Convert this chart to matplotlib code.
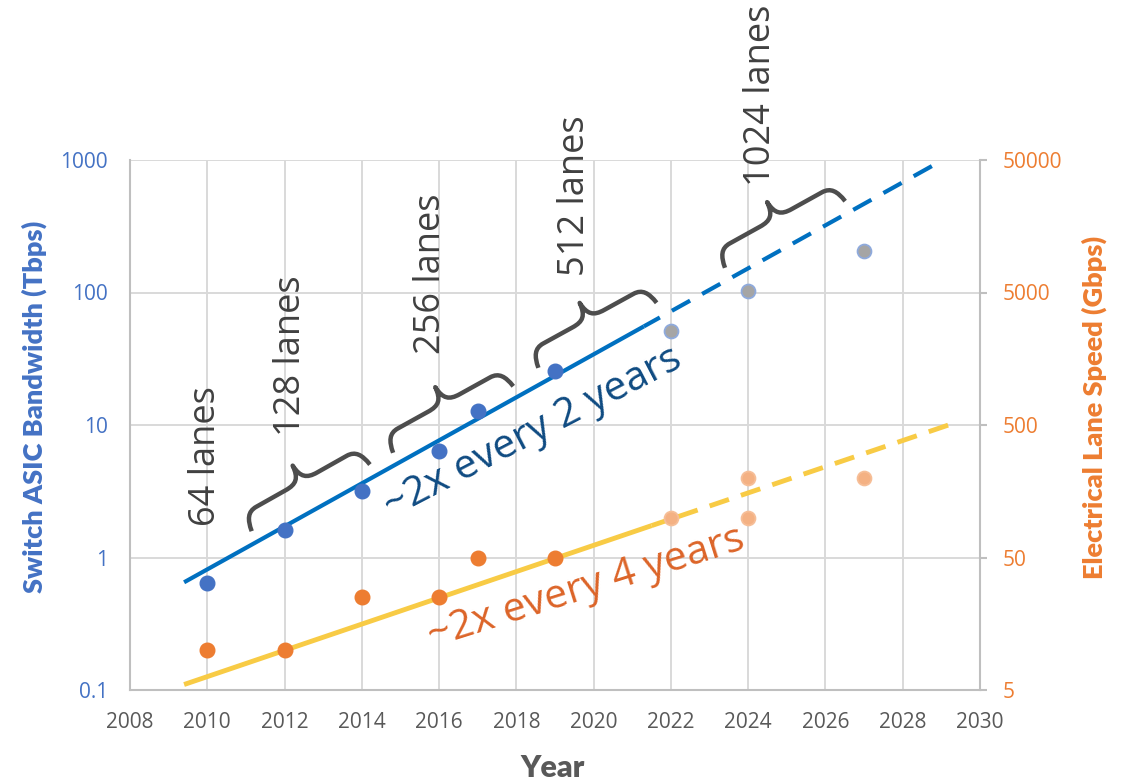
import numpy as np
import matplotlib
matplotlib.use("Agg")
import matplotlib.pyplot as plt
from matplotlib.path import Path
from matplotlib.patches import PathPatch
from matplotlib.transforms import IdentityTransform
from matplotlib.ticker import FixedLocator, FixedFormatter, NullLocator

# Switch ASIC bandwidth (Tbps): shipped parts and announced/projected parts
asic_years = [2010, 2012, 2014, 2016, 2017, 2019]
asic_tbps = [0.64, 1.6, 3.2, 6.4, 12.8, 25.6]
asic_future_years = [2022, 2024, 2027]
asic_future_tbps = [51.2, 102.4, 204.8]

# Electrical SerDes lane speed (Gbps)
lane_years = [2010, 2012, 2014, 2016, 2017, 2019]
lane_gbps = [10, 10, 25, 25, 50, 50]
lane_future_years = [2022, 2024, 2024, 2027]
lane_future_gbps = [100, 200, 100, 200]

# Trend lines: solid = history, dashed = projection
asic_trend_years = [2009.4, 2021.3]
asic_trend_tbps = [0.65, 55.5]
asic_proj_years = [2021.3, 2028.9]
asic_proj_tbps = [55.5, 950]
lane_trend_years = [2009.4, 2021.5]
lane_trend_gbps = [5.5, 87]
lane_proj_years = [2021.5, 2029.4]
lane_proj_gbps = [87, 525]

year_ticks = list(range(2008, 2031, 2))
tbps_ticks = [0.1, 1, 10, 100, 1000]
tbps_labels = ["0.1", "1", "10", "100", "1000"]
gbps_ticks = [5, 50, 500, 5000, 50000]
gbps_labels = ["5", "50", "500", "5000", "50000"]

lane_labels = ["64 lanes", "128 lanes", "256 lanes", "512 lanes", "1024 lanes"]

BLUE_PT = "#4472C4"
BLUE_LINE = "#0070C0"
ORANGE_PT = "#ED7D31"
YELLOW = "#F8CB45"
GRID = "#D9D9D9"
SPINE = "#BFBFBF"
DARK = "#404040"

plt.rcParams["font.family"] = ["Open Sans", "DejaVu Sans"]

W, H = 1129, 780
fig = plt.figure(figsize=(W / 100, H / 100), dpi=100)
ax = fig.add_axes([130 / W, 90 / H, 850 / W, 530 / H])
ax2 = ax.twinx()

# ---- axes / scales ----
ax.set_xlim(2008, 2030)
ax.set_yscale("log")
ax.set_ylim(0.1, 1000)
ax2.set_yscale("log")
ax2.set_ylim(5, 50000)

ax.xaxis.set_major_locator(FixedLocator(year_ticks))
ax.xaxis.set_major_formatter(FixedFormatter([str(y) for y in year_ticks]))
ax.yaxis.set_major_locator(FixedLocator(tbps_ticks))
ax.yaxis.set_major_formatter(FixedFormatter(tbps_labels))
ax.yaxis.set_minor_locator(NullLocator())
ax2.yaxis.set_major_locator(FixedLocator(gbps_ticks))
ax2.yaxis.set_major_formatter(FixedFormatter(gbps_labels))
ax2.yaxis.set_minor_locator(NullLocator())

ax.grid(True, color=GRID, linewidth=1.4)
ax.set_axisbelow(True)

for a in (ax, ax2):
    a.spines["top"].set_visible(False)
    for s in a.spines.values():
        s.set_color(SPINE)
        s.set_linewidth(1.5)
ax2.spines["left"].set_visible(False)
ax2.spines["bottom"].set_visible(False)
ax.spines["right"].set_visible(False)

ax.tick_params(axis="x", length=0, pad=16, labelsize=15, labelcolor="#595959")
ax.tick_params(axis="y", length=0, pad=16, labelsize=15, labelcolor=BLUE_PT)
ax2.tick_params(axis="y", length=5, width=1.5, color=SPINE, direction="out",
                pad=11, labelsize=15, labelcolor=ORANGE_PT)

# ---- trend lines ----
ax.plot(asic_trend_years, asic_trend_tbps, color=BLUE_LINE, lw=3,
        solid_capstyle="butt", zorder=2)
ax.plot(asic_proj_years, asic_proj_tbps, color=BLUE_LINE, lw=3,
        linestyle=(0.6, (5, 3.3)), dash_capstyle="butt", zorder=2)
ax2.plot(lane_trend_years, lane_trend_gbps, color=YELLOW, lw=3.5,
         solid_capstyle="butt", zorder=2)
ax2.plot(lane_proj_years, lane_proj_gbps, color=YELLOW, lw=3.5,
         linestyle=(1.0, (4.2, 2.6)), dash_capstyle="butt", zorder=2)

# ---- data points ----
ax.plot(asic_years, asic_tbps, "o", ms=10.5, color=BLUE_PT, mec=BLUE_PT, zorder=3)
ax.plot(asic_future_years, asic_future_tbps, "o", ms=10, color="#A5A5A5",
        mec="#8FAADC", mew=1.3, zorder=3)
ax2.plot(lane_years, lane_gbps, "o", ms=10.5, color=ORANGE_PT, mec=ORANGE_PT, zorder=3)
ax2.plot(lane_future_years, lane_future_gbps, "o", ms=10, color="#F4B183",
         mec="#F6BE97", mew=1.3, zorder=3)

# ---- axis titles ----
title_font = ["Lato", "DejaVu Sans"]
fig.text(43 / W, 1 - 407 / H, "Switch ASIC Bandwidth (Tbps)", rotation=90,
         rotation_mode="anchor", ha="center", va="baseline",
         fontsize=19.5, fontweight="heavy", color=BLUE_PT, family=title_font)
fig.text(1103 / W, 1 - 407 / H, "Electrical Lane Speed (Gbps)", rotation=90,
         rotation_mode="anchor", ha="center", va="baseline",
         fontsize=19.5, fontweight="heavy", color=ORANGE_PT, family=title_font)
fig.text(553 / W, 3 / H, "Year", ha="center", va="baseline",
         fontsize=22, fontweight="heavy", color="#595959", family=title_font)

# ---- growth-rate annotations ----
ax2.text(2018.55, 7.5, "~2x every 2 years", transform=ax.transData,
         rotation=27.5, rotation_mode="anchor", ha="center", va="baseline",
         fontsize=29.5, color="#0F4B82", zorder=5)
ax2.text(2019.9, 0.50, "~2x every 4 years", transform=ax.transData,
         rotation=17.5, rotation_mode="anchor", ha="center", va="baseline",
         fontsize=29.5, color="#DC6428", zorder=5)

# ---- lane-count labels (x = baseline year, y = centre in Tbps) ----
label_pos = [(2010.20, 5.78), (2012.40, 33.5), (2016.02, 139), (2019.75, 540), (2024.56, 3069)]
for (lx, ly), txt in zip(label_pos, lane_labels):
    ax2.text(lx, ly, txt, transform=ax.transData, rotation=90,
             rotation_mode="anchor", ha="center", va="baseline",
             fontsize=26, color=DARK, zorder=5)

# ---- curly braces between lane-count labels (chord ends in Tbps space) ----
brace_ends = [((2011.15, 1.58), (2014.21, 5.03)),
              ((2014.81, 6.17), (2017.92, 19.6)),
              ((2018.57, 27.0), (2021.63, 83.6)),
              ((2023.40, 153.6), (2026.51, 489))]


def brace(p0, p1, h=19.0, c=18.0):
    p0 = np.asarray(p0, float)
    p1 = np.asarray(p1, float)
    d = p1 - p0
    L = np.hypot(*d)
    u = d / L
    n = np.array([-u[1], u[0]])
    m = (p0 + p1) / 2
    hf = L / 2
    local = [
        (-hf, 0), (-hf + 2, 0.65 * h), (-hf + 6, h), (-hf + 16, h),
        (-18, h),
        (-6, h), (-1, h + 4), (0, h + c),
        (1, h + 4), (6, h), (18, h),
        (hf - 16, h),
        (hf - 6, h), (hf - 2, 0.65 * h), (hf, 0),
    ]
    codes = [Path.MOVETO, Path.CURVE4, Path.CURVE4, Path.CURVE4,
             Path.LINETO,
             Path.CURVE4, Path.CURVE4, Path.CURVE4,
             Path.CURVE4, Path.CURVE4, Path.CURVE4,
             Path.LINETO,
             Path.CURVE4, Path.CURVE4, Path.CURVE4]
    verts = [m + s * u + t * n for s, t in local]
    return Path(verts, codes)


for e0, e1 in brace_ends:
    q0 = ax.transData.transform(e0)
    q1 = ax.transData.transform(e1)
    patch = PathPatch(brace(q0, q1), transform=IdentityTransform(),
                      facecolor="none", edgecolor="#4D4D4D", lw=3.2,
                      capstyle="butt", joinstyle="round")
    fig.add_artist(patch)

fig.savefig("out.png", dpi=100)
